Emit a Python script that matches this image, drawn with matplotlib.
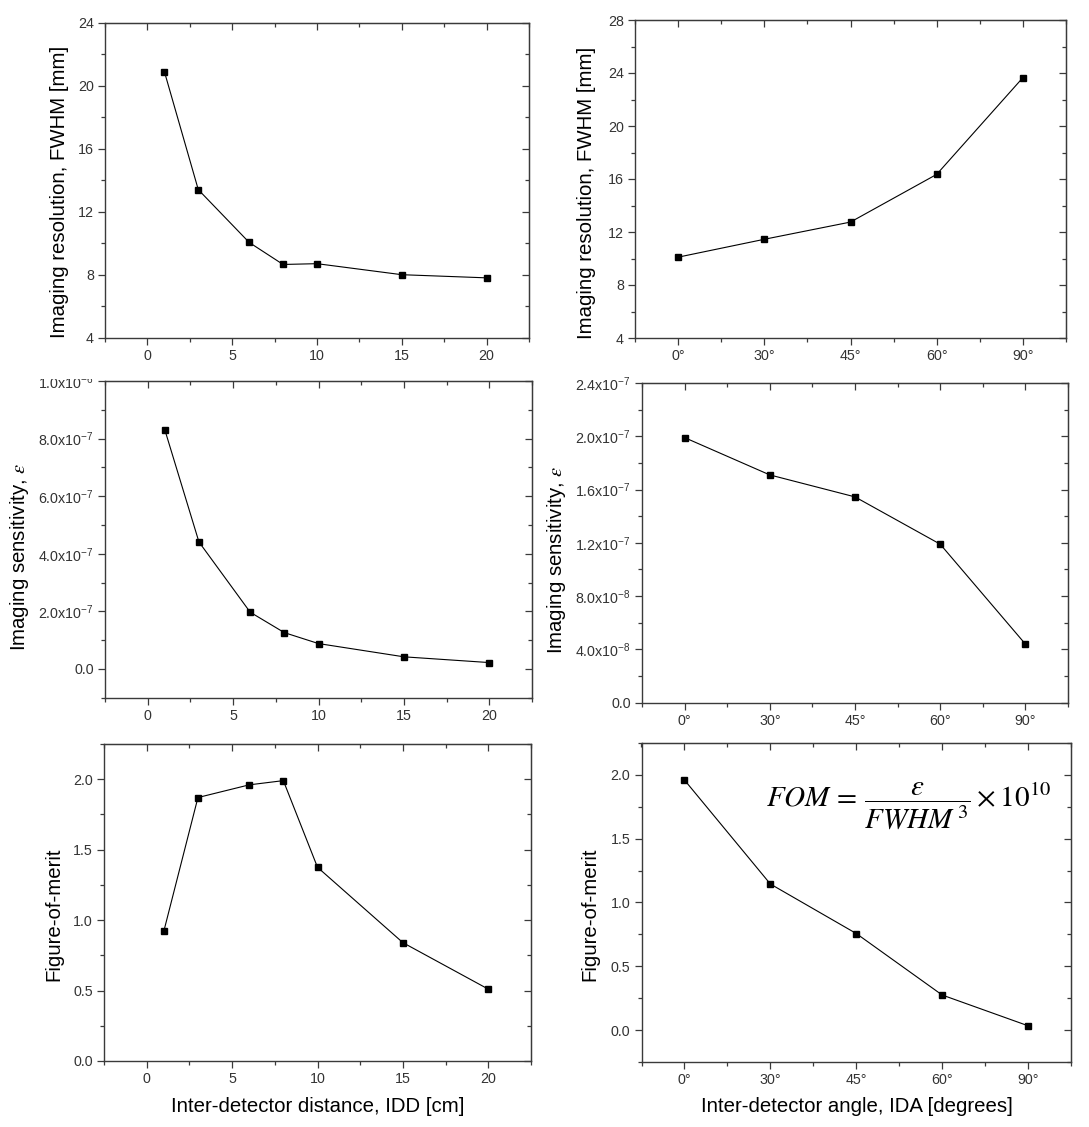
import numpy as np
import matplotlib
matplotlib.use("Agg")
import matplotlib.pyplot as plt
from matplotlib.ticker import MultipleLocator, FixedLocator, FuncFormatter, NullFormatter
from matplotlib.patches import Rectangle

plt.rcParams['font.family'] = ['Liberation Sans', 'DejaVu Sans']
plt.rcParams['mathtext.fontset'] = 'custom'
plt.rcParams['mathtext.rm'] = 'Liberation Sans'
plt.rcParams['mathtext.it'] = 'Liberation Sans:italic'
plt.rcParams['mathtext.bf'] = 'Liberation Sans:bold'

# ---------------- data ----------------
idd_cm = [1, 3, 6, 8, 10, 15, 20]
idd_fwhm = [20.9, 13.4, 10.05, 8.65, 8.7, 8.0, 7.8]
idd_sens = [8.31e-7, 4.41e-7, 1.97e-7, 1.26e-7, 0.88e-7, 0.42e-7, 0.22e-7]
idd_fom = [0.92, 1.87, 1.96, 1.99, 1.375, 0.84, 0.51]

ida_labels = ['0°', '30°', '45°', '60°', '90°']
ida_fwhm = [10.1, 11.45, 12.75, 16.35, 23.65]
ida_sens = [1.99e-7, 1.71e-7, 1.545e-7, 1.19e-7, 0.44e-7]
ida_fom = [1.96, 1.145, 0.757, 0.275, 0.034]

ylabel_res = 'Imaging resolution, FWHM [mm]'
ylabel_sens = r'Imaging sensitivity, $\varepsilon$'
ylabel_fom = 'Figure-of-merit'
xlabel_idd = 'Inter-detector distance, IDD [cm]'
xlabel_ida = 'Inter-detector angle, IDA [degrees]'
formula = r'$FOM\,=\,\dfrac{\varepsilon}{FWHM^{\,3}}\times 10^{10}$'

W, H = 1089, 1127
fig = plt.figure(figsize=(W / 100, H / 100), dpi=100)

SPINE_C = '#3a3a3a'
TICK_C = '#333333'
TICK_FS = 10.3
LAB_FS = 14.7


def sci_fmt(v, pos):
    if abs(v) < 1e-15:
        return '0.0'
    e = int(np.floor(np.log10(abs(v))))
    m = round(v / 10 ** e, 1)
    if abs(m) >= 10:
        m /= 10
        e += 1
    return f'{m:.1f}x10$^{{{e}}}$'


def make_ax(l, r, t, b, xlim, ylim, xmaj, xmin, ymaj, ymin, yfmt=None, xticklabels=None):
    ax = fig.add_axes([l / W, 1 - b / H, (r - l) / W, (b - t) / H])
    ax.set_xlim(*xlim)
    ax.set_ylim(*ylim)
    for s in ax.spines.values():
        s.set_color(SPINE_C)
        s.set_linewidth(1.0)
    ax.xaxis.set_major_locator(xmaj)
    ax.xaxis.set_minor_locator(xmin)
    ax.yaxis.set_major_locator(ymaj)
    ax.yaxis.set_minor_locator(ymin)
    if xticklabels is not None:
        ax.set_xticklabels(xticklabels)
    if yfmt is not None:
        ax.yaxis.set_major_formatter(yfmt)
    ax.tick_params(which='both', direction='out', top=False, right=False,
                   color=SPINE_C, labelcolor=TICK_C, labelsize=TICK_FS, width=0.9)
    ax.tick_params(which='major', length=5, pad=3)
    ax.tick_params(which='minor', length=3)
    # inward ticks on top and right
    sx = ax.secondary_xaxis('top')
    sx.xaxis.set_major_locator(FixedLocator(list(ax.get_xticks())))
    sx.xaxis.set_minor_locator(FixedLocator(list(ax.xaxis.get_minorticklocs())))
    sx.xaxis.set_major_formatter(NullFormatter())
    sx.tick_params(which='both', direction='in', color=SPINE_C, width=0.9)
    sx.tick_params(which='major', length=5)
    sx.tick_params(which='minor', length=3)
    sx.spines['top'].set_color(SPINE_C)
    sy = ax.secondary_yaxis('right')
    sy.yaxis.set_major_locator(FixedLocator(list(ax.get_yticks())))
    sy.yaxis.set_minor_locator(FixedLocator(list(ax.yaxis.get_minorticklocs())))
    sy.yaxis.set_major_formatter(NullFormatter())
    sy.tick_params(which='both', direction='in', color=SPINE_C, width=0.9)
    sy.tick_params(which='major', length=5)
    sy.tick_params(which='minor', length=3)
    sy.spines['right'].set_color(SPINE_C)
    return ax


def plot_line(ax, x, y):
    ax.plot(x, y, color='black', linewidth=0.8, marker='s', markersize=5,
            markerfacecolor='black', markeredgecolor='black')


def set_ylab(ax, text, xpix, ypix, l, r, t, b, size=LAB_FS):
    ax.set_ylabel(text, fontsize=size, color='black', va='center', ha='center',
                  math_fontfamily='stix')
    ax.yaxis.set_label_coords((xpix - l) / (r - l), (b - ypix) / (b - t))


def set_xlab(ax, text, xpix, ypix, l, r, t, b, size=LAB_FS):
    ax.set_xlabel(text, fontsize=size, color='black', va='center', ha='center')
    ax.xaxis.set_label_coords((xpix - l) / (r - l), (b - ypix) / (b - t))


cat_pos = np.arange(len(ida_labels))

# P1
box = (105, 529, 22.7, 337.7)
ax1 = make_ax(*box, (-2.5, 22.5), (4, 24), MultipleLocator(5), MultipleLocator(2.5),
              MultipleLocator(4), MultipleLocator(2))
plot_line(ax1, idd_cm, idd_fwhm)
set_ylab(ax1, ylabel_res, 60, 192, *box)

# P2
box = (635, 1066, 20, 338)
ax2 = make_ax(*box, (-0.5, 4.5), (4, 28), FixedLocator(cat_pos), MultipleLocator(0.5),
              MultipleLocator(4), MultipleLocator(2), xticklabels=ida_labels)
plot_line(ax2, cat_pos, ida_fwhm)
set_ylab(ax2, ylabel_res, 587, 193, *box)

# P3
box = (105, 532, 381, 697.7)
ax3 = make_ax(*box, (-2.5, 22.5), (-1e-7, 1e-6), MultipleLocator(5), MultipleLocator(2.5),
              MultipleLocator(2e-7), MultipleLocator(1e-7), yfmt=FuncFormatter(sci_fmt))
plot_line(ax3, idd_cm, idd_sens)
set_ylab(ax3, ylabel_sens, 20, 557, *box)

# P4
box = (642, 1068, 383, 702.7)
ax4 = make_ax(*box, (-0.5, 4.5), (0, 2.4e-7), FixedLocator(cat_pos), MultipleLocator(0.5),
              MultipleLocator(4e-8), MultipleLocator(2e-8), yfmt=FuncFormatter(sci_fmt),
              xticklabels=ida_labels)
plot_line(ax4, cat_pos, ida_sens)
set_ylab(ax4, ylabel_sens, 556, 560, *box)

# P5
box = (104, 531, 744, 1061)
ax5 = make_ax(*box, (-2.5, 22.5), (0, 2.25), MultipleLocator(5), MultipleLocator(2.5),
              MultipleLocator(0.5), MultipleLocator(0.25),
              yfmt=FuncFormatter(lambda v, p: f'{v:.1f}'))
plot_line(ax5, idd_cm, idd_fom)
set_ylab(ax5, ylabel_fom, 54, 914, *box)
set_xlab(ax5, xlabel_idd, 318, 1107, *box)

# P6
box = (641.5, 1071, 743, 1062)
ax6 = make_ax(*box, (-0.5, 4.5), (-0.25, 2.25), FixedLocator(cat_pos), MultipleLocator(0.5),
              MultipleLocator(0.5), MultipleLocator(0.25),
              yfmt=FuncFormatter(lambda v, p: f'{v:.1f}'), xticklabels=ida_labels)
plot_line(ax6, cat_pos, ida_fom)
set_ylab(ax6, ylabel_fom, 590, 914, *box)
set_xlab(ax6, xlabel_ida, 857, 1107, *box)

fig.text(766 / W, 1 - 806 / H, formula, fontsize=21, ha='left', va='center',
         math_fontfamily='stix', color='black')

# the top label of the middle-left panel is partly hidden in the original
fig.patches.append(Rectangle((0, 1 - 378.5 / H), 100 / W, 12 / H, transform=fig.transFigure,
                             facecolor='white', edgecolor='none', zorder=10))

fig.savefig('out.png', dpi=100, facecolor='white')
